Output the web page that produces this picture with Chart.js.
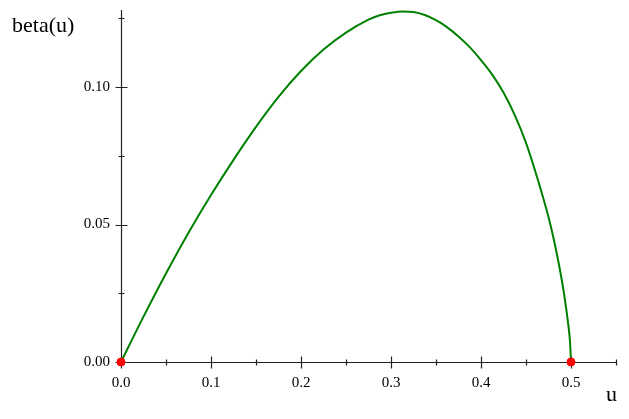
<!DOCTYPE html>
<html>
<head>
<meta charset="utf-8">
<script src="https://cdn.jsdelivr.net/npm/chart.js@4/dist/chart.umd.min.js"></script>
<style>
  html, body { margin: 0; padding: 0; background: #fff; }
  #wrap { width: 629px; height: 419px; }
</style>
</head>
<body>
<div id="wrap"><canvas id="chart"></canvas></div>
<script>
// values
const uValues = [0, 0.025, 0.05, 0.075, 0.1, 0.125, 0.15, 0.175, 0.2, 0.225, 0.25, 0.275,
  0.2875, 0.3, 0.3125, 0.325, 0.3375, 0.35, 0.3625, 0.375, 0.3875, 0.4, 0.4125, 0.425,
  0.4375, 0.45, 0.4625, 0.475, 0.4825, 0.4875, 0.4925, 0.4965, 0.499, 0.5];
const betaValues = [0, 0.0165, 0.0322, 0.047, 0.0607, 0.0735, 0.0855, 0.0964, 0.1058, 0.1136,
  0.1198, 0.1245, 0.1261, 0.1270, 0.1275, 0.1273, 0.1262, 0.1243, 0.1217, 0.1184, 0.1145,
  0.1098, 0.1045, 0.098, 0.0898, 0.0797, 0.067, 0.0527, 0.0421, 0.0339, 0.0243, 0.0148,
  0.007, 0];
const endpointU = [0, 0.5];
const endpointBeta = [0, 0];

const xTicks = [0, 0.1, 0.2, 0.3, 0.4, 0.5];
const yTicks = [0, 0.05, 0.1];
const xMinorTicks = [0.05, 0.15, 0.25, 0.35, 0.45, 0.55];
const yMinorTicks = [0.025, 0.075, 0.125];

const serif = '"Liberation Serif", "DejaVu Serif", serif';

// axes cross ticks (both sides of the line), axis captions
const axesPlugin = {
  id: 'axes',
  beforeDatasetsDraw(chart) {
    const { ctx, scales: { x, y } } = chart;
    const x0 = Math.round(x.getPixelForValue(0)) + 0.5;
    const y0 = Math.round(y.getPixelForValue(0)) + 0.5;
    ctx.save();
    ctx.strokeStyle = '#222';
    ctx.lineWidth = 1.2;
    ctx.beginPath();
    ctx.moveTo(x0, y0);
    ctx.lineTo(x.right, y0);
    ctx.moveTo(x0, y0);
    ctx.lineTo(x0, y.top);
    xTicks.forEach(v => {
      const px = Math.round(x.getPixelForValue(v)) + 0.5;
      ctx.moveTo(px, y0 - 6); ctx.lineTo(px, y0 + 6);
    });
    xMinorTicks.forEach(v => {
      const px = Math.round(x.getPixelForValue(v)) + 0.5;
      ctx.moveTo(px, y0 - 3); ctx.lineTo(px, y0 + 3);
    });
    yTicks.forEach(v => {
      const py = Math.round(y.getPixelForValue(v)) + 0.5;
      ctx.moveTo(x0 - 6, py); ctx.lineTo(x0 + 6, py);
    });
    yMinorTicks.forEach(v => {
      const py = Math.round(y.getPixelForValue(v)) + 0.5;
      ctx.moveTo(x0 - 3, py); ctx.lineTo(x0 + 3, py);
    });
    ctx.stroke();

    ctx.fillStyle = '#000';
    ctx.font = '22px ' + serif;
    ctx.textBaseline = 'alphabetic';
    ctx.textAlign = 'left';
    ctx.fillText('beta(u)', 12, 32);
    ctx.textAlign = 'right';
    ctx.fillText('u', x.right + 1, 401);
    ctx.restore();
  }
};

new Chart(document.getElementById('chart'), {
  type: 'line',
  data: {
    datasets: [
      {
        label: 'beta(u)',
        data: uValues.map((u, i) => ({ x: u, y: betaValues[i] })),
        borderColor: '#008000',
        borderWidth: 2,
        pointRadius: 0,
        fill: false,
        cubicInterpolationMode: 'monotone',
        clip: false,
        order: 2
      },
      {
        label: 'ends',
        type: 'scatter',
        data: endpointU.map((u, i) => ({ x: u, y: endpointBeta[i] })),
        backgroundColor: '#ff0000',
        borderColor: '#ff0000',
        pointRadius: 4,
        clip: false,
        order: 1
      }
    ]
  },
  options: {
    responsive: true,
    maintainAspectRatio: false,
    animation: false,
    layout: { padding: { left: 0, right: 13, top: 10, bottom: 0 } },
    plugins: { legend: { display: false }, tooltip: { enabled: false }, title: { display: false } },
    scales: {
      x: {
        type: 'linear',
        min: 0,
        max: 0.55,
        grid: { display: false, drawTicks: false },
        border: { display: false },
        afterBuildTicks: s => { s.ticks = xTicks.map(v => ({ value: v })); },
        afterFit: s => { s.height = 57; s.paddingLeft = 0; s.paddingRight = 0; },
        ticks: {
          padding: 12,
          color: '#000',
          font: { family: serif, size: 15 },
          callback: v => v.toFixed(1)
        }
      },
      y: {
        type: 'linear',
        min: 0,
        max: 0.128,
        grid: { display: false, drawTicks: false },
        border: { display: false },
        afterBuildTicks: s => { s.ticks = yTicks.map(v => ({ value: v })); },
        afterFit: s => { s.width = 121; s.paddingTop = 0; s.paddingBottom = 0; },
        ticks: {
          padding: 11,
          color: '#000',
          font: { family: serif, size: 15 },
          callback: v => v.toFixed(2)
        }
      }
    }
  },
  plugins: [axesPlugin]
});
</script>
</body>
</html>
